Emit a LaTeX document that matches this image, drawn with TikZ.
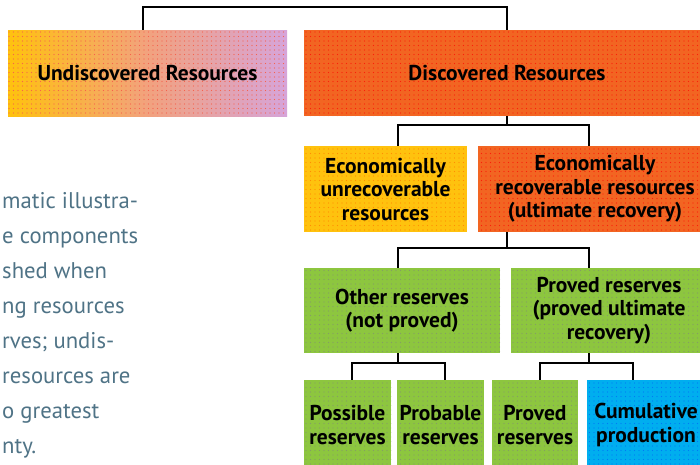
\documentclass[tikz,border=0pt]{standalone}
\usepackage{fontspec}
\setmainfont{PT Sans}
\usetikzlibrary{patterns.meta}
\definecolor{orng}{HTML}{F26522}
\definecolor{yelw}{HTML}{FFC20E}
\definecolor{grn}{HTML}{8DC63F}
\definecolor{blu}{HTML}{00AEEF}
\definecolor{lav}{HTML}{D6A4DA}
\definecolor{salm}{HTML}{F2A27E}
\definecolor{paratext}{HTML}{4F7386}
\begin{document}
\begin{tikzpicture}[x=1pt,y=-1pt,
  box/.style={inner sep=0pt, align=center, text=black,
    font=\fontsize{21.5}{23.5}\selectfont\bfseries},
  dotty/.style={postaction={pattern={Dots[distance=4.5pt, radius=0.7pt]}, pattern color=#1}},
  para/.style={anchor=base west, inner sep=0pt, text=paratext,
    font=\fontsize{22.7}{26}\selectfont},
  conn/.style={line width=1.8pt, black}]
\useasboundingbox (0,0) rectangle (700,464);
\clip (0,0) rectangle (700,464);
\fill[white] (0,0) rectangle (700,464);
% boxes
\node[box, minimum width=279pt, minimum height=86pt,
  left color=yelw, right color=lav, middle color=salm, dotty=red!40!salm] (und) at (147.5,73) {Undiscovered Resources};
\node[box, fill=orng, dotty=red!70!orng, minimum width=406pt, minimum height=86pt] (disc) at (507,73) {Discovered Resources};
\node[box, fill=yelw, dotty=orange!80!yelw, minimum width=163pt, minimum height=86pt] (unrec) at (385.5,189) {Economically\\unrecoverable\\resources};
\node[box, fill=orng, dotty=red!70!orng, minimum width=234pt, minimum height=86pt] (rec) at (595,189) {Economically\\recoverable resources\\(ultimate recovery)};
\node[box, fill=grn, dotty=gray!60!grn, minimum width=196pt, minimum height=85pt] (other) at (402,310.5) {Other reserves\\(not proved)};
\node[box, fill=grn, dotty=gray!60!grn, minimum width=196pt, minimum height=85pt] (proved) at (609,310.5) {Proved reserves\\(proved ultimate\\recovery)};
\node[box, fill=grn, dotty=gray!60!grn, minimum width=87pt, minimum height=90pt] (poss) at (347.5,425) {Possible\\reserves};
\node[box, fill=grn, dotty=gray!60!grn, minimum width=87pt, minimum height=90pt] (prob) at (440.5,425) {Probable\\reserves};
\node[box, fill=grn, dotty=gray!60!grn, minimum width=86pt, minimum height=90pt] (pres) at (535,425) {Proved\\reserves};
\node[box, fill=blu, dotty=blue!30!blu, minimum width=118pt, minimum height=90pt] (cum) at (646,425) {Cumulative\\production};
% connectors
\draw[conn] ([xshift=-4.5pt]und.north) -- ++(0,-23) -| (disc.north);
\draw[conn] (disc.south) -- ++(0,9) -| ([xshift=12.5pt]unrec.north);
\draw[conn] (disc.south) -- ++(0,9) -| ([xshift=-6pt]rec.north);
\draw[conn] ([xshift=-88pt]rec.south) -- ++(0,16) -| ([xshift=-4pt]other.north);
\draw[conn] ([xshift=-88pt]rec.south) -- ++(0,16) -| ([xshift=-20pt]proved.north);
\draw[conn] ([xshift=-4pt]other.south) -- ++(0,10) -| ([xshift=4.5pt]poss.north);
\draw[conn] ([xshift=-4pt]other.south) -- ++(0,10) -| ([xshift=4.5pt]prob.north);
\draw[conn] ([xshift=-20pt]proved.south) -- ++(0,10) -| ([xshift=5pt]pres.north);
\draw[conn] ([xshift=-20pt]proved.south) -- ++(0,10) -| ([xshift=-13pt]cum.north);
% paragraph
\node[para] (p1) at (2,208) {matic illustra-};
\node[para] (p2) at (2,243) {e components};
\node[para] (p3) at (2,278) {shed when};
\node[para] (p4) at (2,313) {ng resources};
\node[para] (p5) at (2,348) {rves; undis-};
\node[para] (p6) at (2,383) {resources are};
\node[para] (p7) at (2,418) {o greatest};
\node[para] (p8) at (2,453) {nty.};
\end{tikzpicture}
\end{document}
